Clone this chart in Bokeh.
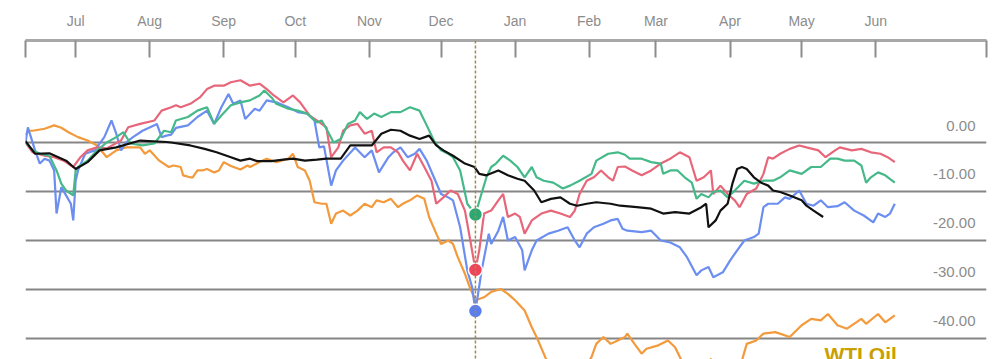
from bokeh.plotting import figure
from bokeh.models import Range1d, FixedTicker, Span, Grid
from bokeh.embed import file_html
from bokeh.resources import INLINE
from bokeh.core.properties import value

# x = days since 2018-06-10
month_days = [21, 52, 83, 113, 144, 174, 205, 236, 264, 295, 325, 356]
month_labels = ["Jul", "Aug", "Sep", "Oct", "Nov", "Dec", "Jan", "Feb", "Mar", "Apr", "May", "Jun"]
x_start, x_end = 0, 402.4
y_low, y_high = -44.29, 20.82
grid_values = [0, -10, -20, -30, -40]
grid_labels = ["0.00", "-10.00", "-20.00", "-30.00", "-40.00"]
event_day = 188.4

blue = [(0, 0), (1, 3.1), (4, -1.6), (6, -4.3), (8, -3.3), (10, -3.7), (12, -5.7), (13, -14.5),
        (15, -9.1), (17, -10.8), (19, -12.5), (20, -15.9), (21, -7.8), (22, -5.7), (25, -2.3),
        (29, -1.6), (33, 1.1), (36, 4.5), (38, 1.8), (40, -1.6), (42, 0), (45, 1.1), (49, 2.4),
        (54, 3.5), (55, 3.8), (57, 1.1), (59, 1.4), (61, 1.6), (63, 3.0), (68, 3.5), (72, 5.2),
        (76, 6.5), (79, 3.8), (82, 7.2), (85, 9.9), (87, 7.9), (90, 8.6), (92, 4.8), (96, 6.9),
        (98, 6.5), (101, 8.6), (105, 8.2), (110, 7.2), (114, 6.2), (118, 5.9), (121, 4.5),
        (123, -1.0), (125, -0.8), (128, -8.8), (130, -5.7), (133, -3.7), (138, -1.0), (142, -3.0),
        (145, -1.6), (148, -6.1), (152, -3.0), (154, -2.0), (157, -1.0), (160, -3.0), (163, -2.3),
        (165, -1.3), (168, -3.7), (171, -7.1), (174, -10.5), (177, -11.2), (179, -11.8),
        (182, -17.3), (185, -26.1), (187, -29.5), (188.4, -34.4), (191, -26.1), (194, -18.6),
        (195, -20.7), (198, -18.0), (200, -15.2), (202, -20.0), (205, -19.3), (208, -22.0),
        (209, -26.1), (212, -22.0), (214, -20.0), (219, -18.6), (223, -18.0), (227, -17.3),
        (230, -20.0), (232, -21.4), (235, -18.6), (238, -17.3), (242, -16.6), (245, -15.9),
        (248, -15.6), (250, -17.6), (252, -18.0), (258, -18.3), (262, -18.0), (266, -20.0),
        (270, -20.4), (274, -21.4), (277, -23.4), (281, -27.1), (283, -26.1), (286, -25.4),
        (288, -27.5), (292, -26.5), (295, -24.1), (298, -22.0), (301, -20.0), (305, -19.3),
        (307, -18.6), (309, -13.2), (311, -12.5), (313, -12.5), (315, -12.5), (318, -11.2),
        (320, -11.5), (324, -9.8), (327, -12.5), (330, -12.9), (333, -11.8), (336, -13.2),
        (340, -13.0), (343, -12.2), (347, -13.9), (351, -14.9), (355, -16.3), (357, -14.5),
        (360, -15.2), (362, -14.5), (364, -12.5)]

red = [(0, 0), (3, -2.0), (8, -2.7), (12, -3.0), (16, -3.7), (20, -5.0), (23, -3.0), (26, -1.6),
       (30, -1.0), (34, -1.2), (40, 0.4), (43, 3.1), (48, 3.8), (54, 4.5), (57, 6.5), (61, 7.2),
       (63, 7.6), (65, 7.2), (69, 7.9), (73, 9.2), (76, 10.9), (79, 11.6), (83, 11.6), (86, 12.3),
       (90, 12.7), (94, 11.6), (98, 12.0), (101, 10.9), (104, 9.6), (108, 8.2), (112, 9.6),
       (115, 8.2), (119, 5.5), (122, 4.5), (124, 3.8), (126, 3.1), (128, -3.0), (131, -1.0),
       (133, 2.4), (136, 3.5), (139, 3.8), (142, 1.8), (145, 2.4), (147, -2.0), (150, -1.0),
       (153, -1.0), (156, -2.0), (158, -3.7), (161, -5.7), (164, -2.3), (167, -5.0), (170, -7.8),
       (172, -12.5), (175, -11.2), (178, -9.8), (181, -10.5), (184, -13.9), (186, -19.3),
       (188.4, -26.0), (190, -22.0), (192, -14.5), (195, -13.9), (198, -11.8), (200, -10.5),
       (202, -15.2), (205, -14.5), (207, -15.2), (209, -18.6), (212, -15.9), (216, -14.5),
       (220, -13.9), (224, -14.5), (228, -15.2), (230, -13.9), (232, -10.5), (235, -7.8),
       (238, -7.1), (241, -5.7), (244, -7.1), (246, -7.8), (248, -5.0), (251, -4.9), (254, -5.7),
       (258, -6.7), (262, -5.7), (266, -4.3), (270, -3.3), (274, -2.0), (278, -3.0), (281, -7.8),
       (284, -7.1), (287, -5.7), (288, -10.5), (291, -8.8), (294, -10.5), (297, -11.8),
       (299, -13.2), (302, -10.5), (306, -9.4), (309, -6.4), (311, -3.0), (313, -3.3), (316, -2.3),
       (320, -1.3), (324, -0.6), (327, -1.0), (332, -1.6), (335, -3.0), (339, -1.6), (341, -1.0),
       (346, -1.6), (350, -1.3), (354, -2.0), (358, -2.3), (361, -3.0), (364, -4.0)]

green = [(0, 0), (3, -1.6), (6, -2.3), (10, -2.7), (13, -5.7), (15, -8.4), (17, -9.8), (20, -10.8),
         (21, -5.7), (22, -5.0), (26, -3.7), (30, -1.6), (34, 0.0), (38, 1.1), (41, 2.1), (44, -0.2),
         (49, -0.6), (54, -0.2), (58, 2.4), (61, 2.1), (63, 4.5), (68, 5.2), (72, 6.5), (76, 7.2),
         (79, 3.8), (82, 5.5), (86, 7.6), (90, 8.2), (94, 8.6), (98, 9.6), (100, 10.6), (103, 9.2),
         (105, 7.9), (110, 6.9), (114, 6.5), (118, 5.9), (122, 4.1), (124, 4.5), (126, 2.8),
         (129, 0.0), (132, 0.7), (135, 3.8), (138, 4.5), (140, 6.2), (143, 4.8), (146, 5.9),
         (149, 5.2), (153, 6.2), (157, 6.2), (161, 7.2), (165, 6.5), (168, 3.5), (171, 0.4),
         (174, -1.6), (177, -2.3), (179, -3.0), (182, -5.7), (185, -12.5), (188.4, -14.7),
         (190, -12.0), (193, -7.1), (195, -5.0), (197, -4.3), (200, -2.7), (203, -3.7), (206, -5.0),
         (209, -7.1), (212, -5.0), (214, -7.1), (217, -7.8), (221, -8.2), (225, -9.4), (228, -8.8),
         (232, -7.8), (237, -6.4), (239, -3.7), (244, -2.3), (248, -2.0), (251, -2.5), (253, -3.3),
         (258, -3.3), (262, -4.0), (266, -4.3), (267, -6.4), (270, -5.7), (273, -5.7), (276, -7.1),
         (279, -8.2), (281, -11.5), (283, -10.5), (286, -11.2), (288, -10.1), (291, -9.8),
         (294, -11.2), (297, -9.8), (301, -7.8), (305, -8.4), (309, -7.8), (313, -7.8), (316, -7.1),
         (320, -5.7), (325, -6.4), (329, -5.0), (333, -5.0), (337, -3.3), (340, -3.3), (343, -3.7),
         (347, -3.7), (350, -4.7), (352, -8.2), (354, -7.1), (357, -6.1), (360, -6.7), (364, -8.2)]

black = [(0, 0.3), (4, -2.3), (10, -2.2), (17, -3.7), (21, -5.4), (26, -4.0), (31, -1.6), (38, -1.0),
         (48, 0.4), (59, 0.1), (61, 0.0), (69, -0.6), (75, -1.3), (80, -2.0), (86, -3.0), (90, -3.7),
         (94, -3.3), (97, -3.8), (103, -3.8), (108, -3.5), (112, -3.3), (117, -3.7), (122, -3.5),
         (126, -3.3), (132, -3.3), (136, -0.6), (140, -0.6), (145, -0.6), (149, 1.8), (153, 2.6),
         (157, 2.4), (161, 1.4), (165, 0.7), (169, 1.4), (172, -0.6), (175, -1.6), (179, -2.7),
         (184, -4.3), (188, -5.0), (190, -6.4), (193, -6.7), (198, -5.7), (202, -6.7), (206, -7.4),
         (209, -7.8), (213, -9.8), (216, -12.2), (220, -11.5), (224, -11.2), (228, -12.5),
         (231, -12.9), (235, -12.5), (239, -12.2), (245, -12.5), (249, -12.9), (256, -13.2),
         (262, -13.5), (267, -14.5), (272, -14.2), (278, -14.5), (283, -13.2), (285, -12.5),
         (286, -17.3), (289, -15.9), (291, -13.9), (294, -12.5), (296, -8.4), (298, -5.4),
         (300, -5.0), (302, -5.4), (305, -7.1), (308, -8.2), (311, -8.8), (313, -9.8), (316, -10.1),
         (320, -10.8), (325, -11.8), (327, -12.9), (330, -13.9), (334, -15.2)]

orange = [(0, 1.5), (1, 2.4), (3, 2.4), (8, 2.8), (12, 3.5), (15, 3.0), (18, 2.1), (22, 1.1),
          (26, 0.4), (30, -0.6), (34, -3.0), (38, -1.6), (42, -1.0), (48, -1.0), (50, -2.3),
          (52, -1.6), (56, -3.7), (60, -5.0), (62, -4.7), (65, -5.0), (66, -6.7), (69, -7.1),
          (70, -7.1), (72, -5.7), (74, -5.7), (76, -5.4), (79, -6.1), (81, -5.7), (83, -4.0),
          (86, -4.8), (90, -5.5), (93, -4.7), (94, -5.0), (98, -4.0), (101, -3.3), (105, -4.0),
          (110, -3.3), (112, -2.3), (114, -5.0), (117, -5.7), (119, -7.8), (121, -12.2), (124, -12.5),
          (126, -12.5), (128, -16.6), (130, -14.5), (133, -13.9), (136, -14.9), (139, -13.9),
          (142, -12.5), (145, -13.2), (147, -11.8), (150, -12.2), (153, -11.5), (156, -13.2),
          (158, -12.5), (161, -11.8), (164, -10.8), (167, -11.5), (169, -15.2), (172, -18.6),
          (174, -20.7), (177, -20.0), (179, -20.7), (181, -23.4), (184, -26.8), (186, -29.5),
          (188.4, -32.2), (192, -31.6), (195, -30.5), (199, -29.9), (202, -30.9), (205, -32.2),
          (209, -34.3), (212, -37.7), (214, -39.7), (217, -43.1), (220, -46.5), (225, -48.0),
          (230, -47.0), (234, -46.0), (237, -43.8), (239, -41.1), (242, -39.7), (245, -41.1),
          (248, -40.4), (251, -39.7), (252, -39.0), (255, -41.1), (258, -43.1), (260, -42.1),
          (265, -41.4), (269, -40.4), (272, -41.8), (274, -43.8), (277, -46.5), (282, -47.0),
          (287, -44.2), (290, -46.0), (295, -46.5), (300, -44.5), (302, -41.1), (306, -40.4),
          (309, -39.0), (314, -38.7), (320, -39.7), (325, -37.3), (329, -36.0), (333, -36.3),
          (336, -35.0), (340, -37.3), (344, -38.0), (350, -36.0), (352, -37.0), (357, -35.0),
          (360, -36.7), (362, -36.0), (364, -35.3)]

colors = {"orange": "#f29a3c", "blue": "#6b8ef0", "red": "#e8667a", "green": "#45b98a", "black": "#111111"}
dot_colors = {"green": "#2ea872", "red": "#f0445a", "blue": "#5a7ef0"}

p = figure(width=1000, height=359, x_range=Range1d(x_start, x_end), y_range=Range1d(y_low, y_high),
           x_axis_location="above", y_axis_location=None, toolbar_location=None,
           output_backend="svg", min_border_left=25, min_border_right=14, min_border_top=40,
           min_border_bottom=0, outline_line_color=None, background_fill_color="white")
p.grid.visible = False
p.add_layout(Grid(dimension=1, ticker=FixedTicker(ticks=grid_values),
                  grid_line_color="#858585", grid_line_width=2))

ax = p.xaxis[0]
ax.ticker = FixedTicker(ticks=[x_start] + month_days + [x_end])
overrides = {x_start: "", x_end: ""}
overrides.update(dict(zip(month_days, month_labels)))
ax.major_label_overrides = overrides
ax.major_tick_in = 17
ax.major_tick_out = 0
ax.minor_tick_line_color = None
ax.axis_line_color = "#a8a8a8"
ax.axis_line_width = 3
ax.major_tick_line_color = "#8c8c8c"
ax.major_tick_line_width = 2
ax.major_label_text_color = "#8c8c8c"
ax.major_label_text_font = "Liberation Sans"
ax.major_label_text_font_size = "14px"
ax.major_label_standoff = 12

p.add_layout(Span(location=event_day, dimension="height", line_color="#a08a4a",
                  line_dash="3 2", line_width=1.5))

series = [("orange", orange), ("blue", blue), ("red", red), ("green", green), ("black", black)]
for name, pts in series:
    xs = [d for d, v in pts]
    ys = [v for d, v in pts]
    p.line(xs, ys, line_color=colors[name], line_width=2.2)

for name, pts in [("green", green), ("red", red), ("blue", blue)]:
    v = dict(pts)[event_day]
    p.scatter([event_day], [v], size=14, fill_color=dot_colors[name], line_color="white", line_width=1.5)

p.text(x=[x_end] * len(grid_values), y=grid_values, text=grid_labels, text_align="right",
       text_baseline="middle", x_offset=-11, y_offset=-17,
       text_font=value("Liberation Sans"), text_font_size="15px", text_color="#8c8c8c")

p.text(x=[orange[-1][0]], y=[orange[-1][1]], text=["WTI Oil"], text_align="right",
       text_baseline="top", x_offset=2, y_offset=28, text_font=value("Liberation Sans"),
       text_font_style="bold", text_font_size="21px", text_color="#c9a000")

open("out.html", "w").write(file_html(p, INLINE))
